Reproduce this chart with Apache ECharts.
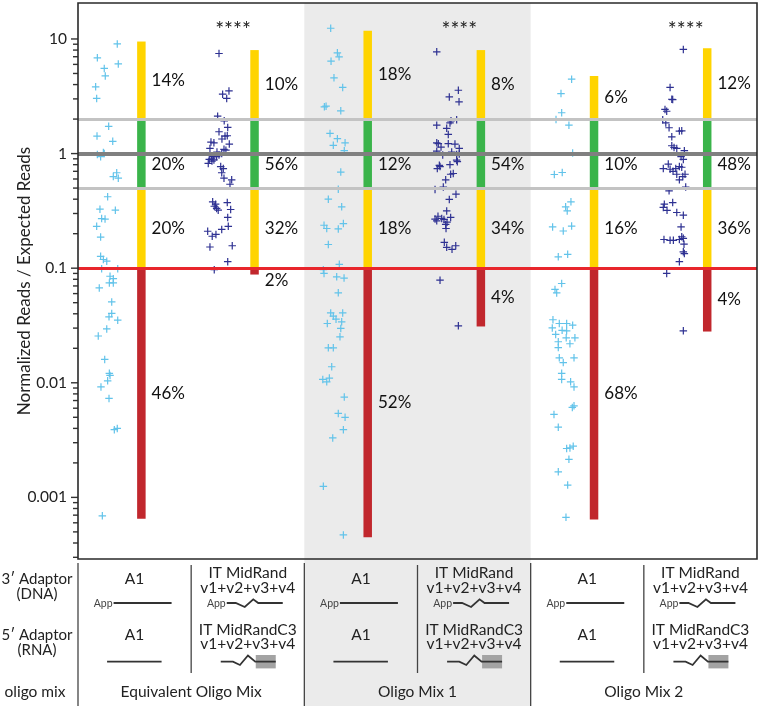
<!DOCTYPE html>
<html><head><meta charset="utf-8">
<script src="https://cdn.jsdelivr.net/npm/echarts@6/dist/echarts.min.js"></script>
<style>html,body{margin:0;padding:0;background:#fff}#c{width:761px;height:706px}</style>
</head><body><div id="c"></div>
<script>
// ---------------- data ----------------
const groups = ['Equivalent Oligo Mix', 'Oligo Mix 1', 'Oligo Mix 2'];
const rowLabels = ['3′ Adaptor\n(DNA)', '5′ Adaptor\n(RNA)', 'oligo mix'];
const adaptor3 = ['A1', 'IT MidRand\nv1+v2+v3+v4'];
const adaptor5 = ['A1', 'IT MidRandC3\nv1+v2+v3+v4'];
const significance = ['****', '****', '****'];
const yAxisName = 'Normalized Reads / Expected Reads';
const yTickValues = [0.001, 0.01, 0.1, 1, 10];
const yTickLabels = ['0.001', '0.01', '0.1', '1', '10'];
const yMin = 0.00029, yMax = 20.6;
const refLines = [2, 1, 0.5, 0.1];
const bandLimits = [2, 0.5, 0.1];
const barTop = [9.5, 8.0, 11.8, 8.0, 4.75, 8.3];
const barBottom = [0.00065, 0.088, 0.00045, 0.031, 0.00064, 0.028];
const pctAbove2 = [14, 10, 18, 8, 6, 12];
const pctNear1 = [20, 56, 12, 54, 10, 48];
const pctLow = [20, 32, 18, 34, 16, 36];
const pctBelow01 = [46, 2, 52, 4, 68, 4];

// [jitter offset within column, normalized reads / expected reads]
const eqA1 = [[0.347,9.06],[0.171,6.84],[0.232,5.53],[0.356,6.06],[0.241,4.76],[0.156,3.82],[0.165,3.03],
[0.271,1.73],[0.168,1.42],[0.307,1.28],[0.171,0.98],[0.200,0.94],[0.224,1.02],[0.232,1.0],[0.342,0.68],[0.312,0.63],[0.356,0.61],
[0.262,0.42],[0.194,0.327],[0.330,0.321],[0.209,0.271],[0.239,0.268],[0.165,0.232],[0.200,0.187],[0.200,0.127],[0.224,0.119],[0.254,0.115],
[0.209,0.099],[0.351,0.099],[0.283,0.085],[0.312,0.081],[0.277,0.0744],[0.312,0.0744],[0.188,0.0673],[0.298,0.0508],[0.298,0.0403],[0.274,0.0376],[0.351,0.0352],[0.254,0.0295],[0.179,0.0256],[0.236,0.016],[0.277,0.0121],[0.283,0.0116],[0.262,0.0104],[0.203,0.0092],[0.274,0.0073],[0.347,0.0040],[0.321,0.0039],[0.215,0.00069]];
const eqIT = [[0.246,7.47],[0.278,3.30],[0.334,3.52],[0.314,3.03],[0.234,2.12],
[0.292,1.93],[0.323,1.69],[0.246,1.55],[0.299,1.42],[0.319,1.43],[0.175,1.26],[0.201,1.24],[0.337,1.21],[0.166,1.11],[0.290,1.09],[0.270,1.0],[0.246,0.97],[0.195,0.94],[0.160,0.89],[0.181,0.91],[0.151,0.82],[0.225,0.94],[0.261,0.77],[0.284,0.74],[0.270,0.68],[0.290,0.61],[0.358,0.59],[0.343,0.54],[0.201,0.88],[0.228,1.03],[0.307,1.07],[0.184,0.86],[0.272,1.34],
[0.190,0.379],[0.216,0.362],[0.225,0.332],[0.239,0.321],[0.319,0.374],[0.349,0.325],[0.323,0.277],[0.328,0.232],[0.270,0.218],[0.146,0.210],[0.186,0.190],[0.219,0.197],[0.166,0.153],[0.363,0.157],[0.323,0.114],[0.204,0.347],
[0.204,0.097]];
const mix1A1 = [[0.233,12.4],[0.292,7.57],[0.307,6.98],[0.236,6.40],[0.262,4.58],[0.339,3.78],[0.177,2.56],[0.192,2.59],[0.322,2.36],
[0.227,1.50],[0.292,1.35],[0.256,1.18],[0.360,1.24],[0.353,1.06],[0.322,0.69],
[0.300,0.489],[0.212,0.40],[0.330,0.343],[0.174,0.237],[0.198,0.222],[0.300,0.220],[0.345,0.245],[0.212,0.161],[0.309,0.108],
[0.168,0.097],[0.174,0.090],[0.286,0.084],[0.351,0.082],[0.300,0.061],[0.233,0.0407],[0.256,0.0381],[0.339,0.0407],[0.203,0.0329],[0.330,0.034],[0.322,0.0298],[0.315,0.0252],[0.212,0.0202],[0.256,0.0202],[0.242,0.0138],[0.163,0.0107],[0.198,0.0102],[0.221,0.0110],[0.353,0.0075],[0.300,0.0054],[0.360,0.0050],[0.345,0.0039],[0.251,0.0033],[0.168,0.00125],[0.345,0.00047],[0.280,0.0359]];
const mix1IT = [[0.170,7.72],[0.361,3.57],[0.281,3.12],[0.367,2.83],
[0.296,1.93],[0.346,1.97],[0.287,1.85],[0.170,1.77],[0.258,1.66],[0.272,1.47],[0.170,1.24],[0.184,1.22],[0.272,1.22],[0.331,1.21],[0.369,1.11],[0.170,1.05],[0.223,0.97],[0.302,1.03],[0.346,0.98],[0.369,0.99],[0.346,0.875],[0.193,0.79],[0.175,0.74],[0.199,0.77],[0.287,0.80],[0.352,0.85],[0.316,0.67],[0.293,0.66],[0.249,0.59],[0.228,0.51],[0.208,1.14],
[0.155,0.486],[0.281,0.398],[0.340,0.442],[0.258,0.316],[0.155,0.268],[0.170,0.259],[0.214,0.272],[0.234,0.266],[0.293,0.277],[0.249,0.241],[0.252,0.222],[0.237,0.168],[0.258,0.152],[0.338,0.157],[0.181,0.284],[0.261,0.252],[0.305,0.146],
[0.199,0.0786],[0.361,0.0314]];
const mix2A1 = [[0.362,4.46],[0.268,3.34],[0.274,2.27],
[0.224,1.98],[0.338,1.77],[0.371,1.01],[0.209,0.657],[0.279,0.684],
[0.356,0.379],[0.309,0.343],[0.323,0.316],[0.194,0.229],[0.288,0.211],[0.362,0.233],[0.244,0.1255],[0.327,0.132],
[0.274,0.0735],[0.215,0.0652],[0.230,0.0608],[0.191,0.0301],[0.253,0.0329],[0.318,0.0329],[0.371,0.0318],[0.221,0.0264],[0.318,0.0284],[0.244,0.0228],[0.314,0.0247],[0.391,0.0247],[0.244,0.0203],[0.253,0.0165],[0.383,0.0165],[0.288,0.0150],[0.274,0.0121],[0.274,0.0107],[0.353,0.0102],[0.383,0.0092],[0.368,0.0061],[0.383,0.0063],[0.206,0.0053],[0.244,0.0041],[0.318,0.00267],[0.347,0.0027],[0.376,0.0028],[0.338,0.00215],[0.244,0.00167],[0.327,0.00128],[0.312,0.00067],[0.278,0.0287],[0.347,0.0219],[0.197,0.0355]];
const mix2IT = [[0.349,8.10],[0.232,3.78],[0.247,2.98],[0.255,2.96],[0.187,2.43],[0.202,2.34],
[0.167,1.97],[0.194,1.85],[0.223,1.68],[0.314,1.57],[0.335,1.58],[0.247,1.40],[0.247,1.17],[0.267,1.13],[0.291,1.11],[0.358,1.06],[0.329,0.94],[0.349,0.89],[0.216,0.81],[0.172,0.74],[0.232,0.73],[0.282,0.74],[0.314,0.77],[0.335,0.76],[0.291,0.66],[0.344,0.63],[0.364,0.66],[0.314,0.59],[0.370,0.51],[0.258,0.70],
[0.223,0.473],[0.181,0.362],[0.172,0.339],[0.255,0.374],[0.291,0.306],[0.349,0.290],[0.329,0.229],[0.178,0.178],[0.232,0.175],[0.261,0.175],[0.314,0.178],[0.349,0.182],[0.335,0.188],[0.358,0.134],[0.349,0.139],[0.314,0.114],[0.205,0.32],[0.355,0.162],
[0.202,0.090],[0.349,0.0284]];
const columnPoints = [eqA1, eqIT, mix1A1, mix1IT, mix2A1, mix2IT];

// ---------------- layout / style ----------------
const FONT = 'Lato';
const GL = 78, GT = 3, GW = 679, GH = 556, H = 706;
const COLW = GW / 6;
const BAR_OFF = 0.56, BAR_W = 8.5;
const YELLOW = '#FFD400', GREEN = '#3AB44A', DRED = '#C1272D', RED = '#E8262C';
const LIGHTBLUE = '#62C3EA', NAVY = '#2E3192';
const PLUS = 'path://M4.2,0H5.8V4.2H10V5.8H5.8V10H4.2V5.8H0V4.2H4.2Z';

const chart = echarts.init(document.getElementById('c'), null, {renderer: 'canvas'});

// ticks (major + minor) for the log axis
const majorTicks = yTickValues.slice();
const minorTicks = [];
for (let e = -4; e <= 1; e++) for (let m = 2; m <= 9; m++) {
  const v = m * Math.pow(10, e);
  if (v > yMin && v < yMax * 0.95) minorTicks.push(v);
}

const series = [];
// gray band (Oligo Mix 1)
series.push({type: 'line', data: [], z: 1, silent: true,
  markArea: {silent: true, itemStyle: {color: '#EBEBEB'}, data: [[{xAxis: 2}, {xAxis: 4}]]}});
// bars with percent labels
series.push({
  type: 'custom', z: 2, clip: false, silent: true,
  data: barTop.map((t, i) => [i, t, barBottom[i]]),
  renderItem(params, api) {
    const i = params.dataIndex;
    const cx = api.coord([i + BAR_OFF, 1])[0];
    const yv = v => api.coord([0, v])[1];
    const yTop = yv(api.value(1)), yBot = yv(api.value(2));
    const b = bandLimits.map(yv);
    const y1 = yv(1);
    const ch = [];
    const seg = (a, c, col) => ch.push({type: 'rect', shape: {x: cx - BAR_W / 2, y: a, width: BAR_W, height: c - a}, style: {fill: col}});
    seg(yTop, b[0], YELLOW); seg(b[0], b[1], GREEN); seg(b[1], b[2], YELLOW); seg(b[2], yBot, DRED);
    const lab = (txt, y) => ch.push({type: 'text', style: {text: txt, x: cx + BAR_W / 2 + 6, y: y, align: 'left', verticalAlign: 'middle', fontSize: 17, fontFamily: FONT, fill: '#111'}});
    lab(pctAbove2[i] + '%', (yTop + b[0]) / 2);
    lab(pctNear1[i] + '%', y1 + 11);
    lab(pctLow[i] + '%', (b[1] + b[2]) / 2);
    const redH = yBot - b[2];
    lab(pctBelow01[i] + '%', redH < 20 ? yBot + 6 : (b[2] + yBot) / 2);
    if (i % 2 === 1) {
      const sx = api.coord([i + 0.37, 1])[0];
      ch.push({type: 'text', style: {text: significance[(i - 1) / 2], x: sx, y: 30, align: 'center', verticalAlign: 'middle', fontSize: 21, fontFamily: FONT, fill: '#222'}});
    }
    return {type: 'group', children: ch};
  }
});
// reference lines
series.push({type: 'line', data: [], z: 3, silent: true,
  markLine: {silent: true, symbol: 'none', label: {show: false}, animation: false,
    data: refLines.map(v => ({yAxis: v, lineStyle: {
      color: v === 1 ? '#808080' : (v === 0.1 ? RED : '#C3C3C3'),
      width: v === 1 ? 4 : 3, type: 'solid'}}))}});
// scatter points
columnPoints.forEach((pts, i) => {
  series.push({type: 'scatter', z: 4, symbol: PLUS, symbolSize: 7.5,
    itemStyle: {color: i % 2 === 0 ? LIGHTBLUE : NAVY, opacity: 1},
    data: pts.map(p => [i + p[0], p[1]])});
});
// axis ticks
const tickSeries = (vals, len) => ({type: 'custom', z: 5, clip: false, silent: true,
  data: vals.map(v => [0, v]),
  renderItem(params, api) {
    const p = api.coord([0, api.value(1)]);
    return {type: 'line', shape: {x1: p[0] - len, y1: p[1], x2: p[0], y2: p[1]}, style: {stroke: '#333', lineWidth: 1.4}};
  }});
series.push(tickSeries(majorTicks, 7));
series.push(tickSeries(minorTicks, 5));

// ---------------- table below the plot ----------------
const g = [];
const cc = i => GL + (i + 0.5) * COLW;
g.push({type: 'rect', z: 0, shape: {x: GL + 2 * COLW, y: GT + GH, width: 2 * COLW, height: H - GT - GH}, style: {fill: '#EBEBEB'}});
[0, 2, 4].forEach(k => g.push({type: 'line', z: 1, shape: {x1: GL + k * COLW, y1: 563, x2: GL + k * COLW, y2: H}, style: {stroke: '#444', lineWidth: 1.3}}));
[1, 3, 5].forEach(k => g.push({type: 'line', z: 1, shape: {x1: GL + k * COLW, y1: 565, x2: GL + k * COLW, y2: 673}, style: {stroke: '#444', lineWidth: 1.3}}));
const txt = (t, x, y, size, opt) => g.push(Object.assign({type: 'text', z: 2, style: Object.assign({text: t, x: x, y: y, align: 'center', verticalAlign: 'middle', fontSize: size, fontFamily: FONT, fill: '#222', lineHeight: 15}, opt || {})}));
txt(rowLabels[0], 37, 586.5, 15);
txt(rowLabels[1], 37, 642.5, 15);
txt(rowLabels[2], 35, 692, 15.5);
groups.forEach((name, k) => txt(name, GL + (2 * k + 1) * COLW, 692, 15.5));
const stroke = {stroke: '#333', lineWidth: 1.8, fill: null};
for (let i = 0; i < 6; i++) {
  const c = cc(i), a = i % 2;
  txt(adaptor3[a], c, a ? 580.5 : 579, 15.5, {lineHeight: 14.5});
  txt(adaptor5[a], c, a ? 637 : 635, 15.5, {lineHeight: 14.5});
  txt('App', c - 22, 603.5, 10.5, {align: 'right', fill: '#444'});
  if (a === 0) {
    g.push({type: 'line', z: 2, shape: {x1: c - 21, y1: 603, x2: c + 37, y2: 603}, style: stroke});
    g.push({type: 'line', z: 2, shape: {x1: c - 27.5, y1: 661.7, x2: c + 27, y2: 661.7}, style: stroke});
  } else {
    g.push({type: 'polyline', z: 2, shape: {points: [[c - 21, 603], [c - 12, 603], [c - 3, 607], [c + 5.5, 599.3], [c + 10.5, 603], [c + 35, 603]]}, style: stroke});
    g.push({type: 'rect', z: 2, shape: {x: c + 8, y: 655, width: 20, height: 13.4}, style: {fill: '#A3A3A3'}});
    g.push({type: 'polyline', z: 3, shape: {points: [[c - 27, 661.7], [c - 14.8, 661.7], [c - 7.8, 665], [c + 0.2, 655.5], [c + 7.5, 661.7], [c + 28, 661.7]]}, style: stroke});
  }
}
// plot frame
g.push({type: 'rect', z: 100, shape: {x: GL, y: GT, width: GW, height: GH}, style: {fill: null, stroke: '#2a2a2a', lineWidth: 1.6}});

chart.setOption({
  animation: false,
  backgroundColor: '#fff',
  grid: {left: GL, top: GT, width: GW, height: GH, show: false},
  xAxis: {type: 'value', min: 0, max: 6, show: false},
  yAxis: {
    type: 'log', logBase: 10, min: yMin, max: yMax,
    name: yAxisName, nameLocation: 'middle', nameGap: 45, nameMoveOverlap: false,
    nameTextStyle: {fontSize: 17, fontFamily: FONT, color: '#222'},
    axisLine: {show: false}, axisTick: {show: false}, splitLine: {show: false},
    axisLabel: {margin: 11, fontSize: 15.5, fontFamily: FONT, color: '#222',
      formatter: v => {
        const k = yTickValues.findIndex(t => Math.abs(Math.log10(v) - Math.log10(t)) < 1e-6);
        return k >= 0 ? yTickLabels[k] : '';
      }}
  },
  graphic: g,
  series: series
});
</script>
</body></html>
